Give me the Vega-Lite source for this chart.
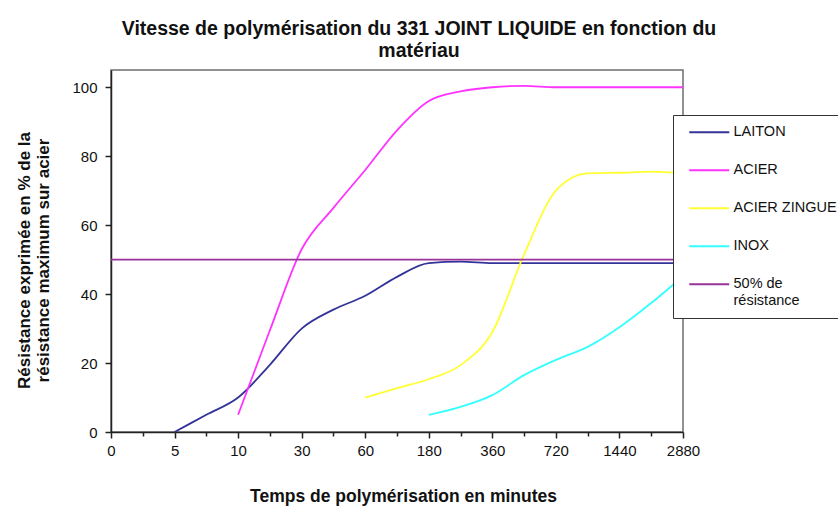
{
  "$schema": "https://vega.github.io/schema/vega-lite/v6.json",
  "width": 572,
  "height": 362,
  "autosize": {"type": "none"},
  "padding": {"left": 111, "top": 70, "right": 155, "bottom": 80},
  "background": "white",
  "config": {
    "font": "Liberation Sans",
    "view": {"stroke": "#6e6e6e", "strokeWidth": 1.5}
  },
  "title": {
    "text": ["Vitesse de polymérisation du 331 JOINT LIQUIDE en fonction du", "matériau"],
    "font": "Liberation Sans",
    "fontSize": 19.5,
    "fontWeight": "bold",
    "color": "#111",
    "lineHeight": 22,
    "anchor": "middle",
    "dx": 22,
    "offset": 9
  },
  "data": {
    "values": [
      {"serie": "LAITON", "temps": "5", "val": 0},
      {"serie": "LAITON", "temps": "7.5", "val": 5},
      {"serie": "LAITON", "temps": "10", "val": 10},
      {"serie": "LAITON", "temps": "20", "val": 19.5},
      {"serie": "LAITON", "temps": "30", "val": 30},
      {"serie": "LAITON", "temps": "45", "val": 35.5},
      {"serie": "LAITON", "temps": "60", "val": 39.5},
      {"serie": "LAITON", "temps": "120", "val": 45},
      {"serie": "LAITON", "temps": "180", "val": 49},
      {"serie": "LAITON", "temps": "270", "val": 49.4},
      {"serie": "LAITON", "temps": "360", "val": 49},
      {"serie": "LAITON", "temps": "540", "val": 49},
      {"serie": "LAITON", "temps": "720", "val": 49},
      {"serie": "LAITON", "temps": "1080", "val": 49},
      {"serie": "LAITON", "temps": "1440", "val": 49},
      {"serie": "LAITON", "temps": "2160", "val": 49},
      {"serie": "LAITON", "temps": "2880", "val": 49},
      {"serie": "ACIER", "temps": "10", "val": 5},
      {"serie": "ACIER", "temps": "20", "val": 29.5},
      {"serie": "ACIER", "temps": "30", "val": 53},
      {"serie": "ACIER", "temps": "45", "val": 65},
      {"serie": "ACIER", "temps": "60", "val": 76},
      {"serie": "ACIER", "temps": "120", "val": 87.5},
      {"serie": "ACIER", "temps": "180", "val": 96},
      {"serie": "ACIER", "temps": "270", "val": 98.8},
      {"serie": "ACIER", "temps": "360", "val": 100},
      {"serie": "ACIER", "temps": "540", "val": 100.4},
      {"serie": "ACIER", "temps": "720", "val": 100},
      {"serie": "ACIER", "temps": "1080", "val": 100},
      {"serie": "ACIER", "temps": "1440", "val": 100},
      {"serie": "ACIER", "temps": "2160", "val": 100},
      {"serie": "ACIER", "temps": "2880", "val": 100},
      {"serie": "ACIER ZINGUE", "temps": "60", "val": 10},
      {"serie": "ACIER ZINGUE", "temps": "120", "val": 12.7},
      {"serie": "ACIER ZINGUE", "temps": "180", "val": 15.3},
      {"serie": "ACIER ZINGUE", "temps": "270", "val": 19.4},
      {"serie": "ACIER ZINGUE", "temps": "360", "val": 29},
      {"serie": "ACIER ZINGUE", "temps": "540", "val": 51.5},
      {"serie": "ACIER ZINGUE", "temps": "720", "val": 70},
      {"serie": "ACIER ZINGUE", "temps": "1080", "val": 75},
      {"serie": "ACIER ZINGUE", "temps": "1440", "val": 75.2},
      {"serie": "ACIER ZINGUE", "temps": "2160", "val": 75.5},
      {"serie": "ACIER ZINGUE", "temps": "2880", "val": 75},
      {"serie": "INOX", "temps": "180", "val": 5},
      {"serie": "INOX", "temps": "270", "val": 7.3},
      {"serie": "INOX", "temps": "360", "val": 10.7},
      {"serie": "INOX", "temps": "540", "val": 16.5},
      {"serie": "INOX", "temps": "720", "val": 20.9},
      {"serie": "INOX", "temps": "1080", "val": 24.7},
      {"serie": "INOX", "temps": "1440", "val": 30.4},
      {"serie": "INOX", "temps": "2160", "val": 37.4},
      {"serie": "INOX", "temps": "2880", "val": 45.2},
      {"serie": "50% de résistance", "temps": "0", "val": 50},
      {"serie": "50% de résistance", "temps": "2880", "val": 50}
    ]
  },
  "mark": {"type": "line", "interpolate": "monotone", "strokeWidth": 1.8},
  "encoding": {
    "x": {
      "field": "temps",
      "type": "ordinal",
      "scale": {
        "type": "point",
        "padding": 0,
        "domain": ["0", "2.5", "5", "7.5", "10", "20", "30", "45", "60", "120", "180", "270", "360", "540", "720", "1080", "1440", "2160", "2880"]
      },
      "axis": {
        "title": "Temps de polymérisation en minutes",
        "titleFont": "Liberation Sans",
        "titleFontSize": 17.5,
        "titleFontWeight": "bold",
        "titleColor": "#111",
        "titlePadding": 29,
        "titleX": 292,
        "labelAngle": 0,
        "labelOverlap": false,
        "labelFontSize": 15,
        "labelColor": "#111",
        "labelPadding": 5,
        "labelExpr": "indexof(['0','5','10','30','60','180','360','720','1440','2880'], datum.label) >= 0 ? datum.label : ''",
        "domainColor": "#222",
        "domainWidth": 1.5,
        "tickColor": "#222",
        "tickWidth": 1.5,
        "tickSize": {"condition": {"test": "indexof(['0','5','10','30','60','180','360','720','1440','2880'], datum.value) >= 0", "value": 6}, "value": 4}
      }
    },
    "y": {
      "field": "val",
      "type": "quantitative",
      "scale": {"domain": [0, 105], "nice": false},
      "axis": {
        "title": ["Résistance exprimée en % de la", "résistance maximum sur acier"],
        "titleFont": "Liberation Sans",
        "titleFontSize": 17,
        "titleFontWeight": "bold",
        "titleColor": "#111",
        "titleLineHeight": 19,
        "titlePadding": 19,
        "titleY": 190,
        "values": [0, 20, 40, 60, 80, 100],
        "grid": false,
        "labelFontSize": 15,
        "labelColor": "#111",
        "labelPadding": 8,
        "domainColor": "#222",
        "domainWidth": 1.5,
        "tickColor": "#222",
        "tickWidth": 1.5,
        "tickSize": 6
      }
    },
    "color": {
      "field": "serie",
      "type": "nominal",
      "scale": {
        "domain": ["LAITON", "ACIER", "ACIER ZINGUE", "INOX", "50% de résistance"],
        "range": ["#333399", "#ff33ff", "#ffff33", "#33ffff", "#993399"]
      },
      "legend": {
        "title": null,
        "orient": "none",
        "legendX": 562,
        "legendY": 45,
        "symbolType": "M-4,0H4",
        "symbolSize": 100,
        "symbolStrokeWidth": 2,
        "symbolOffset": 19,
        "labelFontSize": 14.5,
        "labelColor": "#111",
        "labelOffset": 17,
        "rowPadding": 23,
        "padding": 10,
        "strokeColor": "#333",
        "fillColor": "white",
        "labelExpr": "datum.label == '50% de résistance' ? ['50% de', 'résistance'] : datum.label"
      }
    }
  }
}
